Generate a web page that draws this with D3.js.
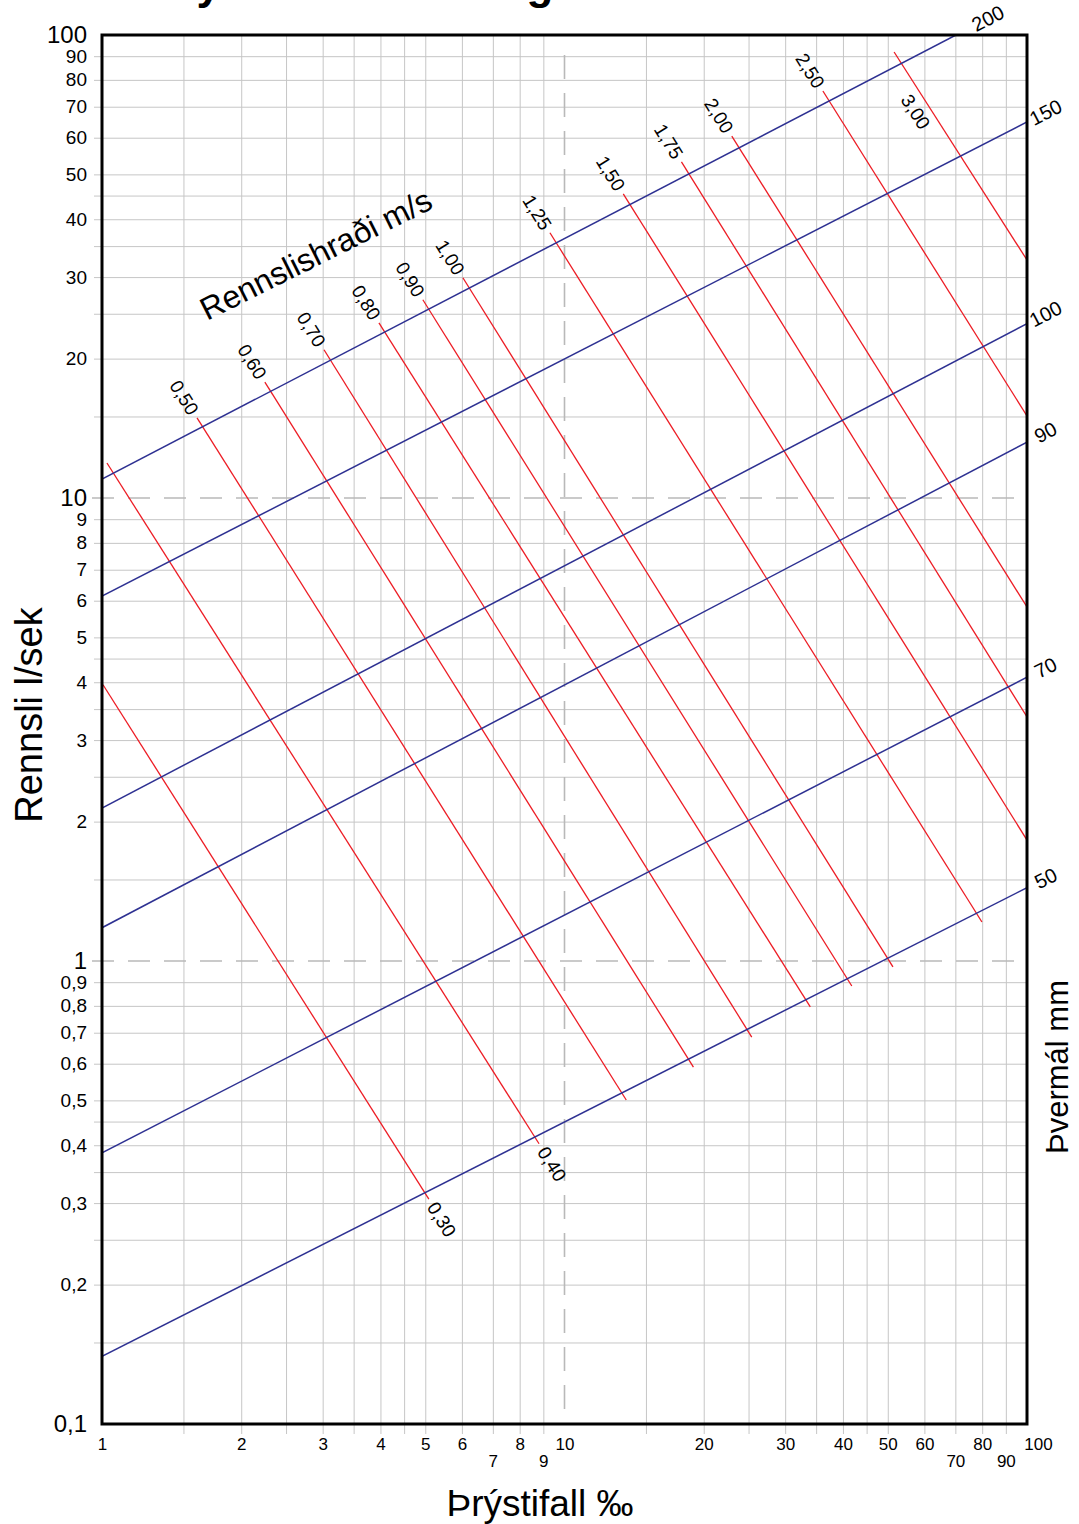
<!DOCTYPE html>
<html>
<head>
<meta charset="utf-8">
<script src="https://cdn.jsdelivr.net/npm/d3@7"></script>
<style>
  body { margin: 0; background: #fff; }
  text { font-family: "Liberation Sans", Arial, sans-serif; fill: #000; }
</style>
</head>
<body>
<svg id="chart" width="1079" height="1524"></svg>
<script>
// ---- data ----
const title = "Þrýstifall í vatnslögnum";
const xTickValues = [1, 2, 3, 4, 5, 6, 7, 8, 9, 10, 20, 30, 40, 50, 60, 70, 80, 90, 100];
const xTickLow = [7, 9, 70, 90];   // labels set one row lower
const xGridValues = [1.5, 2, 2.5, 3, 3.5, 4, 4.5, 5, 6, 7, 8, 9, 15, 20, 25, 30, 35, 40, 45, 50, 60, 70, 80, 90];
const yTickValues = [0.1, 0.2, 0.3, 0.4, 0.5, 0.6, 0.7, 0.8, 0.9, 1, 2, 3, 4, 5, 6, 7, 8, 9, 10, 20, 30, 40, 50, 60, 70, 80, 90, 100];
const yTickBig = [0.1, 1, 10, 100];
const yGridValues = [0.15, 0.2, 0.25, 0.3, 0.35, 0.4, 0.45, 0.5, 0.6, 0.7, 0.8, 0.9,
  1.5, 2, 2.5, 3, 3.5, 4, 4.5, 5, 6, 7, 8, 9, 15, 20, 25, 30, 35, 40, 45, 50, 60, 70, 80, 90];
const xDashed = [10];
const yDashed = [1, 10];

// pipe diameter lines (mm), [pressure drop ‰, flow l/s] at both ends
const diameters = ["50", "70", "90", "100", "150", "200"];
const diamStart = [[1, 0.140], [1, 0.385], [1, 1.18], [1, 2.14], [1, 6.14], [1, 10.99]];
const diamEnd = [[100, 1.44], [100, 4.10], [100, 13.2], [100, 23.8], [100, 64.9], [70.2, 100]];

// flow velocity lines (m/s)
const velocities = ["0,30", "0,40", "0,50", "0,60", "0,70", "0,80", "0,90", "1,00", "1,25", "1,50", "1,75", "2,00", "2,50", "3,00"];
const velStart = [[1.005, 3.95], [1.025, 11.9], [1.605, 14.9], [2.25, 17.8], [3.02, 20.9], [3.97, 23.9], [4.94, 26.8],
  [6.03, 29.9], [9.30, 37.4], [13.4, 45.4], [17.9, 53.2], [23.0, 60.5], [36.2, 75.7], [51.6, 91.9]];
const velEnd = [[5.09, 0.306], [8.81, 0.403], [13.6, 0.501], [19.0, 0.590], [25.4, 0.685], [34.0, 0.796], [41.8, 0.883],
  [51.3, 0.971], [79.9, 1.214], [100, 1.825], [100, 3.365], [100, 5.815], [100, 15.04], [100, 32.66]];
const velLabelAt = ["end", "end", "start", "start", "start", "start", "start", "start", "start", "start", "start", "start", "start", "inside"];

// ---- layout ----
const svg = d3.select("#chart");
const pLeft = 102, pRight = 1027, pTop = 35, pBottom = 1424;
const x = d3.scaleLog().domain([1, 100]).range([pLeft, pRight]);
const y = d3.scaleLog().domain([0.1, 100]).range([pBottom, pTop]);
const blue = "#2e3192", red = "#ed1c24", gridColor = "#c6c6c6";

// title, sits above the page so only descenders show
svg.append("text")
  .attr("x", 150).attr("y", -1)
  .style("font-size", "44px").style("font-weight", "bold")
  .text(title);

// grid
svg.append("g")
  .attr("transform", `translate(0,${pBottom + 10})`)
  .call(d3.axisBottom(x).tickValues(xGridValues).tickSize(-(pBottom + 10 - pTop)).tickFormat(""))
  .call(g => g.select(".domain").remove())
  .call(g => g.selectAll("line").attr("stroke", gridColor));

svg.append("g")
  .attr("transform", `translate(${pLeft - 8},0)`)
  .call(d3.axisLeft(y).tickValues(yGridValues).tickSize(-(pRight - pLeft + 8)).tickFormat(""))
  .call(g => g.select(".domain").remove())
  .call(g => g.selectAll("line").attr("stroke", gridColor));

// dashed reference lines
svg.selectAll(".dx").data(xDashed).enter().append("line")
  .attr("x1", d => x(d)).attr("x2", d => x(d))
  .attr("y1", pTop + 20).attr("y2", pBottom)
  .attr("stroke", "#b9b9b9").attr("stroke-width", 1.6).attr("stroke-dasharray", "24,14");
svg.selectAll(".dy").data(yDashed).enter().append("line")
  .attr("x1", pLeft - 10).attr("x2", pRight)
  .attr("y1", d => y(d)).attr("y2", d => y(d))
  .attr("stroke", "#b9b9b9").attr("stroke-width", 1.6).attr("stroke-dasharray", "22,14");

// clip for the lines
svg.append("clipPath").attr("id", "plot")
  .append("rect").attr("x", pLeft).attr("y", pTop).attr("width", pRight - pLeft).attr("height", pBottom - pTop);

const lines = svg.append("g").attr("clip-path", "url(#plot)");
const line = d3.line().x(d => x(d[0])).y(d => y(d[1]));

const diamData = diameters.map((name, i) => ({ name, pts: [diamStart[i], diamEnd[i]] }));
const velData = velocities.map((name, i) => ({ name, pts: [velStart[i], velEnd[i]], at: velLabelAt[i] }));

lines.selectAll(".vel").data(velData).enter().append("path")
  .attr("d", d => line(d.pts))
  .attr("fill", "none").attr("stroke", red).attr("stroke-width", 1.3);

lines.selectAll(".diam").data(diamData).enter().append("path")
  .attr("d", d => line(d.pts))
  .attr("fill", "none").attr("stroke", blue).attr("stroke-width", 1.5);

// velocity labels, written along the line
velData.forEach(d => {
  const p0 = [x(d.pts[0][0]), y(d.pts[0][1])];
  const p1 = [x(d.pts[1][0]), y(d.pts[1][1])];
  const len = Math.hypot(p1[0] - p0[0], p1[1] - p0[1]);
  const ux = (p1[0] - p0[0]) / len, uy = (p1[1] - p0[1]) / len;
  const ang = Math.atan2(uy, ux) * 180 / Math.PI;
  let cx, cy;
  if (d.at === "end") { cx = p1[0] + ux * 24; cy = p1[1] + uy * 24; }
  else if (d.at === "start") { cx = p0[0] - ux * 24; cy = p0[1] - uy * 24; }
  else { cx = p0[0] + ux * 62 - uy * 14; cy = p0[1] + uy * 62 + ux * 14; }
  svg.append("text")
    .attr("transform", `translate(${cx},${cy}) rotate(${ang})`)
    .attr("text-anchor", "middle").attr("dy", "0.35em")
    .style("font-size", "19px")
    .text(d.name);
});

// diameter labels past the right end
diamData.forEach(d => {
  const p0 = [x(d.pts[0][0]), y(d.pts[0][1])];
  const p1 = [x(d.pts[1][0]), y(d.pts[1][1])];
  const len = Math.hypot(p1[0] - p0[0], p1[1] - p0[1]);
  const ux = (p1[0] - p0[0]) / len, uy = (p1[1] - p0[1]) / len;
  const ang = Math.atan2(uy, ux) * 180 / Math.PI;
  const off = d.pts[1][1] >= 100 ? 36 : 21;
  svg.append("text")
    .attr("transform", `translate(${p1[0] + ux * off},${p1[1] + uy * off}) rotate(${ang})`)
    .attr("text-anchor", "middle").attr("dy", "0.35em")
    .style("font-size", "20px")
    .text(d.name);
});

// frame
svg.append("rect")
  .attr("x", pLeft).attr("y", pTop).attr("width", pRight - pLeft).attr("height", pBottom - pTop)
  .attr("fill", "none").attr("stroke", "#000").attr("stroke-width", 3);

// x tick labels
svg.append("g")
  .attr("transform", `translate(0,${pBottom})`)
  .call(d3.axisBottom(x).tickValues(xTickValues).tickSize(0).tickPadding(0).tickFormat(d3.format("d")))
  .call(g => g.select(".domain").remove())
  .call(g => g.selectAll("text")
    .attr("dy", null)
    .attr("y", d => xTickLow.includes(d) ? 43 : 26)
    .attr("x", d => d === 100 ? 11 : 0)
    .style("font-size", "17px")
    .style("font-family", "'Liberation Sans', Arial, sans-serif")
    .attr("fill", "#000"));

// y tick labels
svg.append("g")
  .attr("transform", `translate(${pLeft - 15},0)`)
  .call(d3.axisLeft(y).tickValues(yTickValues).tickSize(0).tickPadding(0)
    .tickFormat(d => String(d).replace(".", ",")))
  .call(g => g.select(".domain").remove())
  .call(g => g.selectAll("text")
    .style("font-size", d => yTickBig.includes(d) ? "24px" : "19px")
    .style("font-family", "'Liberation Sans', Arial, sans-serif")
    .attr("fill", "#000"));

// axis titles
svg.append("text")
  .attr("x", 540).attr("y", 1516).attr("text-anchor", "middle")
  .style("font-size", "37px")
  .text("Þrýstifall ‰");

svg.append("text")
  .attr("transform", "translate(42,715) rotate(-90)").attr("text-anchor", "middle")
  .style("font-size", "38px")
  .text("Rennsli l/sek");

svg.append("text")
  .attr("transform", "translate(1068,1067) rotate(-90)").attr("text-anchor", "middle")
  .style("font-size", "31px")
  .text("Þvermál mm");

svg.append("text")
  .attr("transform", "translate(207,321) rotate(-26.5)")
  .style("font-size", "32px")
  .text("Rennslishraði m/s");
</script>
</body>
</html>
